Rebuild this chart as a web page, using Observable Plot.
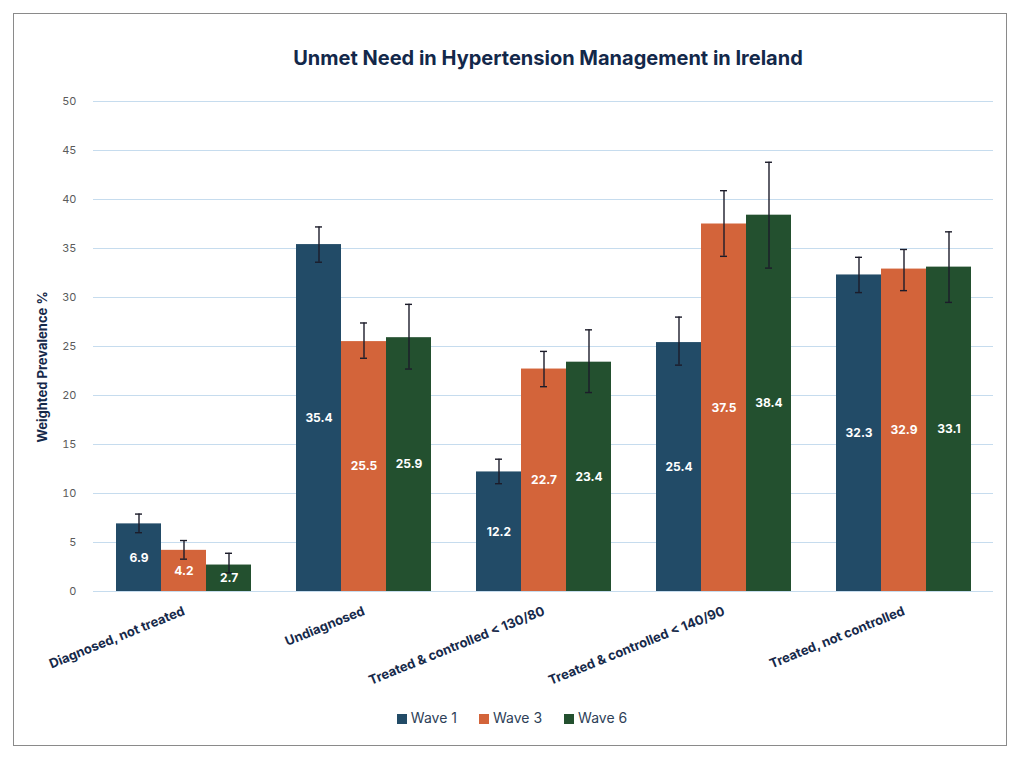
<!DOCTYPE html>
<html>
<head>
<meta charset="utf-8">
<script src="https://cdn.jsdelivr.net/npm/d3@7"></script>
<script src="https://cdn.jsdelivr.net/npm/@observablehq/plot@0.6"></script>
<style>
  body { margin: 0; background: #fff; font-family: Inter, "Open Sans", sans-serif; }
  #wrap { position: relative; width: 1024px; height: 765px; overflow: hidden; }
  #frame { position: absolute; left: 13px; top: 13px; width: 992px; height: 731px; border: 1px solid #8a8a8a; }
  #title { position: absolute; left: 93px; width: 910px; top: 46px; text-align: center; font-size: 20px; font-weight: 700; color: #13284a; }
  .layer { position: absolute; left: 0; top: 0; }
  #legend { position: absolute; left: 0; width: 1024px; top: 709px; display: flex; justify-content: center; gap: 22px; font-size: 14px; color: #2e3f58; padding-left: 0px; }
  #legend span.sw { display: inline-block; width: 10px; height: 10px; margin-right: 4px; vertical-align: -1px; }
</style>
</head>
<body>
<div id="wrap">
  <div id="frame"></div>
  <div id="title">Unmet Need in Hypertension Management in Ireland</div>
  <div id="legend"></div>
</div>
<script>
const categories = ["Diagnosed, not treated", "Undiagnosed", "Treated & controlled < 130/80", "Treated & controlled < 140/90", "Treated, not controlled"];
const waves = ["Wave 1", "Wave 3", "Wave 6"];
const colors = ["#224b67", "#d3643a", "#23502f"];
const wave1 = [6.9, 35.4, 12.2, 25.4, 32.3];
const wave3 = [4.2, 25.5, 22.7, 37.5, 32.9];
const wave6 = [2.7, 25.9, 23.4, 38.4, 33.1];
const wave1Low  = [6.0, 33.6, 11.0, 23.1, 30.5];
const wave1High = [7.9, 37.2, 13.5, 28.0, 34.1];
const wave3Low  = [3.3, 23.8, 20.9, 34.2, 30.7];
const wave3High = [5.2, 27.4, 24.5, 40.9, 34.9];
const wave6Low  = [1.9, 22.7, 20.3, 33.0, 29.5];
const wave6High = [3.9, 29.3, 26.7, 43.8, 36.7];
const yTicks = [0, 5, 10, 15, 20, 25, 30, 35, 40, 45, 50];

const series = [[wave1, wave1Low, wave1High], [wave3, wave3Low, wave3High], [wave6, wave6Low, wave6High]];
const data = [];
categories.forEach((c, i) => {
  waves.forEach((w, j) => {
    data.push({category: c, wave: w, value: series[j][0][i], low: series[j][1][i], high: series[j][2][i]});
  });
});

const W = 1024, H = 700;
const common = {
  width: W, height: H,
  marginLeft: 93, marginRight: 31, marginTop: 101, marginBottom: H - 591,
  style: {background: "transparent", fontFamily: "Inter, 'Open Sans', sans-serif", overflow: "visible"}
};

// background: grid + y axis
const bg = Plot.plot({
  ...common,
  y: {domain: [0, 50], ticks: yTicks, label: null},
  marks: [
    Plot.ruleY(yTicks, {stroke: "#c6dcee", strokeWidth: 1.2}),
    Plot.axisY(yTicks, {tickSize: 0, tickPadding: 17, fontSize: 11, fill: "#5b5b5b", label: null})
  ]
});

// foreground: bars
const fg = Plot.plot({
  ...common,
  fx: {domain: categories, paddingInner: 0.25, paddingOuter: 0.125, label: null},
  x: {domain: waves, padding: 0, axis: null},
  y: {domain: [0, 50], axis: null},
  color: {domain: waves, range: colors},
  marks: [
    Plot.barY(data, {fx: "category", x: "wave", y: "value", fill: "wave"}),
    Plot.ruleX(data, {fx: "category", x: "wave", y1: "low", y2: "high", stroke: "#1c1c2a", strokeWidth: 1.4}),
    Plot.tickY(data, {fx: "category", x: "wave", y: "low", stroke: "#1c1c2a", strokeWidth: 1.4, insetLeft: 19, insetRight: 19}),
    Plot.tickY(data, {fx: "category", x: "wave", y: "high", stroke: "#1c1c2a", strokeWidth: 1.4, insetLeft: 19, insetRight: 19}),
    Plot.text(data, {fx: "category", x: "wave", y: d => d.value / 2, text: d => d.value.toFixed(1), fill: "#ffffff", fontSize: 12, fontWeight: 700}),
    Plot.axisFx({anchor: "bottom", tickSize: 0, tickPadding: 19, tickRotate: -22, fontSize: 13, fontWeight: 700, fill: "#16294a", label: null})
  ]
});

bg.classList.add("layer");
fg.classList.add("layer");
const wrap = document.getElementById("wrap");
wrap.appendChild(bg);
wrap.appendChild(fg);

// Y axis title
const yl = document.createElementNS("http://www.w3.org/2000/svg", "text");
yl.setAttribute("transform", "translate(47,367) rotate(-90)");
yl.setAttribute("text-anchor", "middle");
yl.setAttribute("font-size", "13");
yl.setAttribute("font-weight", "700");
yl.setAttribute("fill", "#16294a");
yl.textContent = "Weighted Prevalence %";
bg.appendChild(yl);

const legend = document.getElementById("legend");
waves.forEach((w, i) => {
  const item = document.createElement("div");
  item.innerHTML = `<span class="sw" style="background:${colors[i]}"></span>${w}`;
  legend.appendChild(item);
});
</script>
</body>
</html>
